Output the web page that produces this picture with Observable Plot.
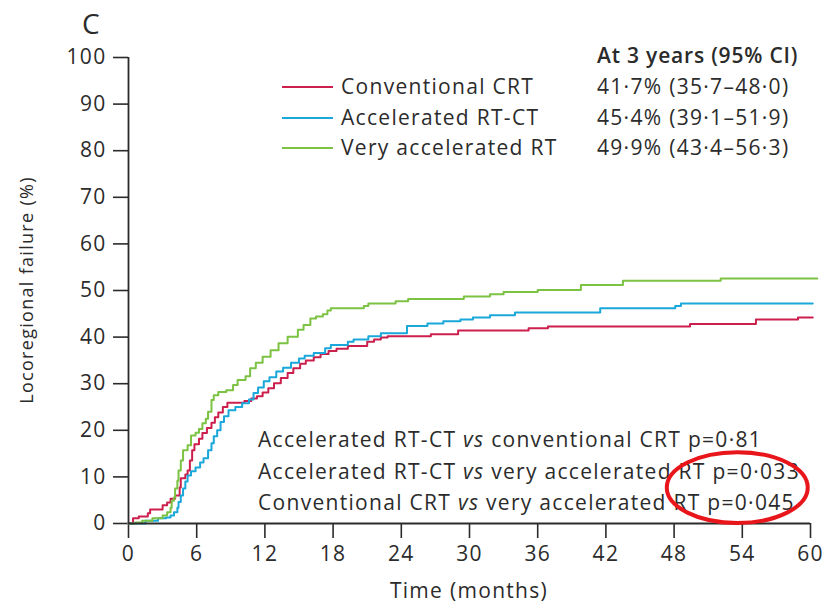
<!DOCTYPE html>
<html><head><meta charset="utf-8">
<script src="https://cdn.jsdelivr.net/npm/d3@7"></script>
<script src="https://cdn.jsdelivr.net/npm/@observablehq/plot@0.6"></script>
<style>
body{margin:0;background:#fff;}
#chart{width:827px;height:605px;}
</style></head><body><div id="chart"></div>
<script>
const panelLabel = "C";
const seriesNames = ["Conventional CRT", "Accelerated RT-CT", "Very accelerated RT"];
const seriesColors = ["#cc1f4d", "#1aa7d9", "#7cc243"];
const ciHeader = "At 3 years (95% CI)";
const ciLabels = ["41·7% (35·7–48·0)", "45·4% (39·1–51·9)", "49·9% (43·4–56·3)"];

const conventionalT = [0,0.4,0.9,1.7,1.9,3.0,3.4,3.7,4.1,4.5,4.6,5.0,5.2,5.4,5.6,5.8,6.2,6.5,6.9,7.3,7.6,7.9,8.3,8.7,10.2,10.8,11.3,11.8,12.3,12.8,13.4,14.0,14.5,15.1,15.6,16.3,16.9,17.6,18.3,19.3,21.0,21.6,22.2,22.8,26.6,29.0,35.2,36.9,49.4,55.2,58.9,60.2];
const conventionalV = [0,1.1,1.5,2.2,3.0,3.9,4.5,5.3,6.0,7.7,9.7,10.5,11.4,13.5,15.7,17.0,18.2,19.4,20.5,21.6,22.8,23.8,25.0,25.9,26.3,26.8,27.3,28.1,29.0,30.1,31.2,32.3,33.3,34.3,35.0,35.7,36.4,37.0,37.5,38.1,39.0,39.5,39.9,40.2,40.6,41.4,41.9,42.3,42.8,43.8,44.2,44.2];

const acceleratedT = [0,1.5,2.6,3.3,3.7,4.0,4.3,4.4,4.6,4.8,5.0,5.2,5.5,5.9,6.3,6.6,7.0,7.3,7.5,7.8,8.1,8.4,8.8,9.4,10.0,10.6,11.0,11.4,11.9,12.4,13.0,13.6,14.3,15.0,15.5,16.3,17.3,17.8,19.3,19.8,21.1,22.2,24.5,26.3,27.7,29.2,30.3,31.8,34.0,41.5,48.1,48.6,60.2];
const acceleratedV = [0,0.6,1.1,1.3,1.7,2.4,3.4,4.6,6.0,7.5,9.0,10.3,11.2,12.0,13.1,14.0,15.7,17.2,18.7,20.0,21.8,23.0,24.3,25.0,25.8,26.6,28.0,29.2,30.5,31.4,32.6,33.4,34.5,35.4,36.0,36.6,37.6,38.3,39.0,39.5,40.2,40.8,42.4,42.9,43.4,43.8,44.2,44.7,45.3,46.2,46.7,47.2,47.2];

const veryT = [0,0.6,1.2,2.1,3.0,3.4,3.7,3.8,4.0,4.1,4.3,4.4,4.6,4.8,5.2,5.5,5.9,6.2,6.5,6.8,7.0,7.3,7.5,7.9,8.6,9.2,9.6,10.3,10.7,11.2,11.8,12.5,13.2,14.0,14.9,15.4,16.0,16.5,17.1,17.5,17.8,20.7,21.1,23.5,24.6,29.5,31.8,33.0,36.0,39.8,43.5,52.1,60.6];
const veryV = [0,0.2,0.6,1.1,1.7,2.4,3.4,4.9,5.6,7.5,9.2,11.4,13.5,15.7,16.8,18.9,19.5,20.3,21.5,22.5,24.0,26.5,27.5,28.2,28.6,29.7,30.8,31.6,33.3,34.5,35.8,37.2,38.7,40.1,41.6,42.6,44.0,44.4,44.9,45.7,46.2,46.7,47.2,47.7,48.2,48.7,49.2,49.7,50.1,51.2,52.1,52.6,52.6];

const xTicks = [0,6,12,18,24,30,36,42,48,54,60];
const yTicks = [0,10,20,30,40,50,60,70,80,90,100];
const xLabel = "Time (months)";
const yLabel = "Locoregional failure (%)";
const pComparisons = [
  ["Accelerated RT-CT", "conventional CRT", "p=0·81"],
  ["Accelerated RT-CT", "very accelerated RT", "p=0·033"],
  ["Conventional CRT", "very accelerated RT", "p=0·045"]
];
// highlight ellipse in data units: centre (months, %), radii (months, %)
const highlightCentre = [53.6, 7.6];
const highlightRadii = [6.2, 7.6];

const seriesT = [conventionalT, acceleratedT, veryT];
const seriesV = [conventionalV, acceleratedV, veryV];
const data = seriesNames.flatMap((name, i) => seriesT[i].map((t, j) => ({group: name, t, v: seriesV[i][j]})));

const FONT = "'Open Sans', sans-serif";
const INK = "#2b2b2b";
const LS = "1.3px";

const plot = Plot.plot({
  width: 827, height: 605,
  marginLeft: 128, marginRight: 17, marginTop: 57, marginBottom: 82,
  style: {fontFamily: FONT, fontSize: "21px", letterSpacing: LS, color: INK, background: "white", overflow: "visible"},
  x: {domain: [0, 60]},
  y: {domain: [0, 100]},
  color: {domain: seriesNames, range: seriesColors},
  marks: [
    Plot.axisX({ticks: xTicks, tickSize: 15, tickPadding: 8, strokeWidth: 1.6, label: null, tickFormat: d => String(d)}),
    Plot.axisY({ticks: yTicks, tickSize: 15, tickPadding: 7, strokeWidth: 1.6, label: null, tickFormat: d => String(d)}),
    Plot.line(data, {x: "t", y: "v", z: "group", stroke: "group", curve: "step-after", strokeWidth: 2}),
    Plot.ruleY([0], {stroke: INK, strokeWidth: 1.8}),
    Plot.ruleX([0], {stroke: INK, strokeWidth: 1.8})
  ]
});
document.getElementById("chart").appendChild(plot);

const xs = plot.scale("x"), ys = plot.scale("y");
const X = v => xs.range[0] + (v - xs.domain[0]) / (xs.domain[1] - xs.domain[0]) * (xs.range[1] - xs.range[0]);
const Y = v => ys.range[0] + (v - ys.domain[0]) / (ys.domain[1] - ys.domain[0]) * (ys.range[1] - ys.range[0]);

const svg = d3.select(plot);
const g = svg.append("g").attr("font-family", FONT).attr("fill", INK).attr("font-size", 21).attr("text-anchor", "start").attr("letter-spacing", LS);

// panel label
g.append("text").attr("x", 82).attr("y", 24).attr("dy", "0.35em").attr("font-size", 28).attr("letter-spacing", 0).attr("font-weight", 500).text(panelLabel);

// axis titles
g.append("text").attr("x", (X(0) + X(60)) / 2).attr("y", 591).attr("dy", "0.35em").attr("text-anchor", "middle").text(xLabel);
g.append("text").attr("transform", `translate(27,${(Y(0) + Y(100)) / 2}) rotate(-90)`).attr("dy", "0.35em").attr("text-anchor", "middle").attr("font-size", 18).text(yLabel);

// legend
const rowY = [87, 118, 148];
g.append("text").attr("x", 597).attr("y", 56).attr("dy", "0.35em").attr("font-weight", 600).attr("letter-spacing", "0.8px").text(ciHeader);
seriesNames.forEach((name, i) => {
  g.append("line").attr("x1", 282).attr("x2", 333).attr("y1", rowY[i]).attr("y2", rowY[i]).attr("stroke", seriesColors[i]).attr("stroke-width", 2);
  g.append("text").attr("x", 341).attr("y", rowY[i]).attr("dy", "0.35em").text(name);
  g.append("text").attr("x", 597).attr("y", rowY[i]).attr("dy", "0.35em").text(ciLabels[i]);
});

// p-value comparisons
const pY = [440, 472, 503];
pComparisons.forEach((c, i) => {
  const t = g.append("text").attr("x", 258).attr("y", pY[i]).attr("dy", "0.35em");
  t.append("tspan").text(c[0] + " ");
  t.append("tspan").attr("font-style", "italic").text("vs");
  t.append("tspan").text(" " + c[1] + " " + c[2]);
});

// red highlight ellipse
svg.append("ellipse")
  .attr("cx", X(highlightCentre[0])).attr("cy", Y(highlightCentre[1]))
  .attr("rx", X(highlightCentre[0] + highlightRadii[0]) - X(highlightCentre[0]))
  .attr("ry", Y(highlightCentre[1]) - Y(highlightCentre[1] + highlightRadii[1]))
  .attr("fill", "none").attr("stroke", "#e8151b").attr("stroke-width", 4);
</script></body></html>
